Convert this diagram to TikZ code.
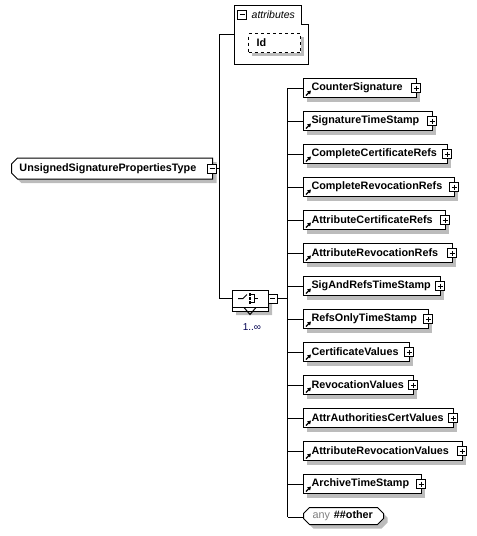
\documentclass[tikz,border=0pt]{standalone}
\usepackage{fontspec}
\setmainfont{Liberation Sans}
\usetikzlibrary{shapes.misc,arrows.meta}
\newcommand\elfont{\fontsize{10.8pt}{12pt}\selectfont\bfseries}
\definecolor{shadowc}{RGB}{188,188,188}
\tikzset{
  conn/.style={line width=1pt},
  elem/.style={draw,fill=white,line width=1pt,minimum height=19pt,inner xsep=0pt,inner ysep=0pt,
    align=left,font=\elfont,anchor=west},
  plusbox/.style={draw,fill=white,line width=0.8pt,minimum size=9pt,inner sep=0pt,
    path picture={\draw[line width=0.8pt] ([xshift=2pt]path picture bounding box.west) -- ([xshift=-2pt]path picture bounding box.east)
      ([yshift=-2pt]path picture bounding box.north) -- ([yshift=2pt]path picture bounding box.south);}},
  minusbox/.style={draw,fill=white,line width=0.8pt,minimum size=9pt,inner sep=0pt,
    path picture={\draw[line width=0.8pt] ([xshift=2pt]path picture bounding box.west) -- ([xshift=-2pt]path picture bounding box.east);}},
  refarrow/.style={line width=1.2pt,-{Triangle[length=3.5pt,width=4pt]}},
  rootst/.style={chamfered rectangle,chamfered rectangle corners={north west,south west},
    chamfered rectangle xsep=3pt,chamfered rectangle ysep=3pt,draw,fill=white,line width=1pt,
    minimum height=21pt,inner xsep=5pt,inner ysep=0pt,text width=185pt,align=left,font=\elfont,anchor=west},
  seqst/.style={chamfered rectangle,chamfered rectangle xsep=5pt,chamfered rectangle ysep=5pt,
    draw,fill=white,line width=1pt,minimum width=36pt,minimum height=17pt,inner sep=0pt},
  anyst/.style={chamfered rectangle,chamfered rectangle xsep=3pt,chamfered rectangle ysep=3pt,
    draw,fill=white,line width=1pt,minimum width=74pt,minimum height=17pt,inner xsep=6pt,inner ysep=0pt,
    text width=62pt,align=left,font=\fontsize{10.8pt}{12pt}\selectfont,anchor=west},
  idst/.style={draw,dashed,fill=white,line width=1pt,minimum width=52pt,minimum height=19pt,
    inner xsep=0pt,inner ysep=0pt,text width=52pt,align=left,font=\elfont,anchor=north west},
  shadowfill/.style={fill=shadowc,draw=none},
}
\newcommand\mkelem[4]{%
  \pgfmathsetlengthmacro\elw{(#3-303)*1pt}%
  \fill[shadowc] (307,#2-5.5) rectangle (#3+4,#2+13.5);
  \node[elem,text width=\elw] (#1) at (303,#2) {\hspace*{8pt}#4};
  \node[plusbox] (#1p) at ([xshift=-1pt]#1.east) {};
  \draw[refarrow] ([shift={(3pt,2.5pt)}]#1.south west) -- ++(5pt,5pt);
  \draw[conn] (t2 |- #1.west) -- (#1.west);
}
\begin{document}
\begin{tikzpicture}[x=1pt,y=-1pt]
\useasboundingbox (0,0) rectangle (477,536);
% trunks
\coordinate (t1) at (219,34);
\coordinate (t1b) at (219,298.5);
\coordinate (t2) at (287.5,88);
\coordinate (t2b) at (287.5,517);
\draw[conn] (t1) -- (t1b);
\draw[conn] (t2) -- (t2b);
% root
\node[rootst,shadowfill] (roots) at (15,172.5) {\phantom{UnsignedSignaturePropertiesType}};
\node[rootst] (root) at (11,168.5) {UnsignedSignaturePropertiesType};
\node[minusbox] (rootm) at ([xshift=-1pt]root.east) {};
\draw[conn] (rootm.east) -- (rootm.east -| t1);
% attributes
\node[minimum width=74pt,minimum height=59pt,inner sep=0pt,anchor=north west] (attr) at (234,5) {};
\draw[line width=1pt] (attr.north west) -- ([xshift=-7pt]attr.north east) -- ([xshift=-7pt,yshift=-19pt]attr.north east)
  -- ([yshift=-19pt]attr.north east) -- (attr.south east) -- (attr.south west) -- cycle;
\draw[conn] (t1) -- (t1 -| attr.west);
\node[minusbox] (attrm) at (242,14.5) {};
\node[anchor=west,inner sep=0pt,font=\fontsize{10.5pt}{12pt}\selectfont\itshape] (attrt) at (251.5,14.5) {attributes};
\fill[shadowc] (252,37) rectangle (304,56);
\node[idst] (id) at (248,33) {\hspace*{8pt}Id};
% sequence (repeated: stacked outline + shadow)
\node[seqst,shadowfill] (seqsh) at (254,306.5) {};
\node[seqst] (seqbk) at (250,302.5) {};
\node[seqst] (seq) at (250,298.5) {};
\draw[line width=1pt] ([xshift=-6pt]seq.south) -- ([yshift=-7pt]seq.south) -- ([xshift=6pt]seq.south);
\node[minusbox] (seqm) at (272.5,298.5) {};
\draw[conn] (t1b) -- (seq.west);
\draw[conn] (seqm.east) -- (seqm.east -| t2);
\draw[line width=1pt] ([xshift=-12pt]seq.center) -- ([xshift=-7pt]seq.center) -- ([xshift=-3pt,yshift=4pt]seq.center);
\foreach \dy in {-4,0,4}{\fill ([xshift=0pt,yshift=\dy pt]seq.center) +(-1.2pt,-1.2pt) rectangle +(1.2pt,1.2pt);}
\draw[line width=1pt] ([xshift=1pt,yshift=4pt]seq.center) -- ([xshift=4pt,yshift=4pt]seq.center) -- ([xshift=4pt,yshift=-4pt]seq.center) -- ([xshift=1pt,yshift=-4pt]seq.center);
\draw[line width=1pt] ([xshift=4pt]seq.center) -- ([xshift=8pt]seq.center);
\node[font=\fontsize{10pt}{12pt}\selectfont,text={rgb,255:red,0;green,0;blue,80},inner sep=0pt] (occ) at (252,327) {1..∞};
% children
\mkelem{e1}{88}{416}{CounterSignature}
\mkelem{e2}{121}{432}{SignatureTimeStamp}
\mkelem{e3}{154}{447}{CompleteCertificateRefs}
\mkelem{e4}{187}{454}{CompleteRevocationRefs}
\mkelem{e5}{220}{445}{AttributeCertificateRefs}
\mkelem{e6}{253}{452}{AttributeRevocationRefs}
\mkelem{e7}{286}{440}{SigAndRefsTimeStamp}
\mkelem{e8}{319}{428}{RefsOnlyTimeStamp}
\mkelem{e9}{352}{409}{CertificateValues}
\mkelem{e10}{385}{413}{RevocationValues}
\mkelem{e11}{418}{453}{AttrAuthoritiesCertValues}
\mkelem{e12}{451}{462}{AttributeRevocationValues}
\mkelem{e13}{484}{421}{ArchiveTimeStamp}
\node[anyst,shadowfill] (anys) at (307,520) {\phantom{any}};
\node[anyst] (any) at (303,516) {{\color{black!50}any}\hspace{4pt}\textbf{\#\#other}};
\draw[conn] (t2b) -- (t2b -| any.west);
\end{tikzpicture}
\end{document}
